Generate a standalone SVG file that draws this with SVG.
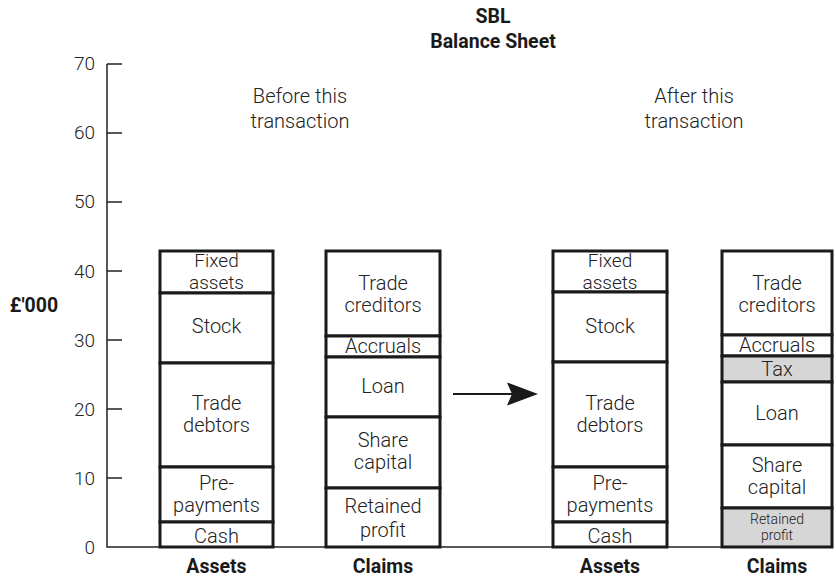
<svg xmlns="http://www.w3.org/2000/svg" width="836" height="583" viewBox="0 0 836 583">
<style>
.ax{stroke:#222;stroke-width:1.5;fill:none}
.seg{fill:#fff;stroke:#1a1a1a;stroke-width:3}
.g{fill:#d6d6d6}
.t{font-family:Roboto,"Liberation Sans",sans-serif;font-weight:300;font-size:20px;fill:#222;text-anchor:middle}
.f{font-size:19px}
.s{font-size:14px}
.n{font-family:Roboto,"Liberation Sans",sans-serif;font-weight:300;font-size:19px;fill:#222;text-anchor:end}
.b{font-family:Roboto,"Liberation Sans",sans-serif;font-weight:700;font-size:19.5px;fill:#1a1a1a;text-anchor:middle}
</style>
<rect width="836" height="583" fill="#fff"/>
<g id="title">
<text class="b" x="493" y="23">SBL</text>
<text class="b" x="493" y="48">Balance Sheet</text>
</g>
<g id="axis">
<path class="ax" d="M107,64V547H833M107,64H122M107,133H122M107,202H122M107,271H122M107,340H122M107,409H122M107,478H122"/>
<text class="n" x="95" y="70">70</text>
<text class="n" x="95" y="139">60</text>
<text class="n" x="95" y="208">50</text>
<text class="n" x="95" y="278">40</text>
<text class="n" x="95" y="347">30</text>
<text class="n" x="95" y="416">20</text>
<text class="n" x="95" y="485">10</text>
<text class="n" x="95" y="554">0</text>
<text class="b" x="34" y="312">£'000</text>
</g>
<g id="captions">
<text class="t" x="300" y="103">Before this</text>
<text class="t" x="300" y="128">transaction</text>
<text class="t" x="694" y="103">After this</text>
<text class="t" x="694" y="128">transaction</text>
</g>
<g id="assets-before">
<rect class="seg" x="160" y="251" width="113" height="42"/>
<rect class="seg" x="160" y="293" width="113" height="70"/>
<rect class="seg" x="160" y="363" width="113" height="104"/>
<rect class="seg" x="160" y="467" width="113" height="55"/>
<rect class="seg" x="160" y="522" width="113" height="25"/>
<text class="t f" x="216.5" y="267">Fixed</text>
<text class="t f" x="216.5" y="289">assets</text>
<text class="t" x="216.5" y="333">Stock</text>
<text class="t" x="216.5" y="410">Trade</text>
<text class="t" x="216.5" y="432">debtors</text>
<text class="t" x="216.5" y="490">Pre-</text>
<text class="t" x="216.5" y="512">payments</text>
<text class="t" x="216.5" y="543">Cash</text>
<text class="b" x="216.5" y="573">Assets</text>
</g>
<g id="claims-before">
<rect class="seg" x="326" y="251" width="114" height="85"/>
<rect class="seg" x="326" y="336" width="114" height="21"/>
<rect class="seg" x="326" y="357" width="114" height="60"/>
<rect class="seg" x="326" y="417" width="114" height="71"/>
<rect class="seg" x="326" y="488" width="114" height="59"/>
<text class="t" x="383" y="290">Trade</text>
<text class="t" x="383" y="312">creditors</text>
<text class="t" x="383" y="353">Accruals</text>
<text class="t" x="383" y="393">Loan</text>
<text class="t" x="383" y="447">Share</text>
<text class="t" x="383" y="469">capital</text>
<text class="t" x="383" y="513">Retained</text>
<text class="t" x="383" y="537">profit</text>
<text class="b" x="383" y="573">Claims</text>
</g>
<g id="connectors">
<path d="M453,394H515" stroke="#1a1a1a" stroke-width="1.8" fill="none"/>
<path d="M538,394L507,382.5L512,394L507,405.5Z" fill="#1a1a1a"/>
</g>
<g id="assets-after">
<rect class="seg" x="553" y="251" width="114" height="41"/>
<rect class="seg" x="553" y="292" width="114" height="70"/>
<rect class="seg" x="553" y="362" width="114" height="105"/>
<rect class="seg" x="553" y="467" width="114" height="55"/>
<rect class="seg" x="553" y="522" width="114" height="25"/>
<text class="t f" x="610" y="267">Fixed</text>
<text class="t f" x="610" y="289">assets</text>
<text class="t" x="610" y="333">Stock</text>
<text class="t" x="610" y="410">Trade</text>
<text class="t" x="610" y="432">debtors</text>
<text class="t" x="610" y="490">Pre-</text>
<text class="t" x="610" y="512">payments</text>
<text class="t" x="610" y="543">Cash</text>
<text class="b" x="610" y="573">Assets</text>
</g>
<g id="claims-after">
<rect class="seg" x="722" y="251" width="110" height="84"/>
<rect class="seg" x="722" y="335" width="110" height="21"/>
<rect class="seg g" x="722" y="356" width="110" height="26"/>
<rect class="seg" x="722" y="382" width="110" height="63"/>
<rect class="seg" x="722" y="445" width="110" height="63"/>
<rect class="seg g" x="722" y="508" width="110" height="39"/>
<text class="t" x="777" y="290">Trade</text>
<text class="t" x="777" y="312">creditors</text>
<text class="t" x="777" y="352">Accruals</text>
<text class="t" x="777" y="376">Tax</text>
<text class="t" x="777" y="420">Loan</text>
<text class="t" x="777" y="472">Share</text>
<text class="t" x="777" y="494">capital</text>
<text class="t s" x="777" y="524">Retained</text>
<text class="t s" x="777" y="540">profit</text>
<text class="b" x="777" y="573">Claims</text>
</g>
</svg>
